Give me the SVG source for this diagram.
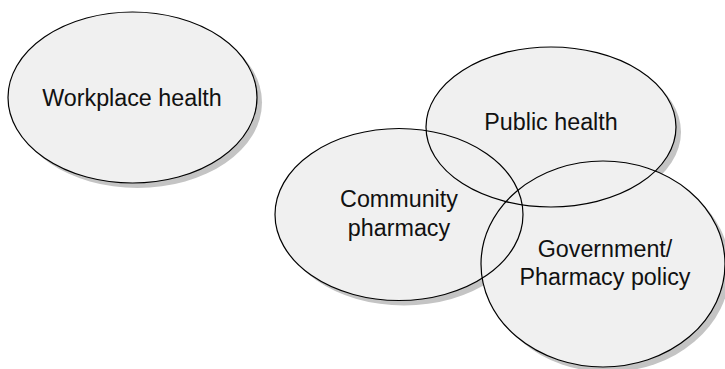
<svg xmlns="http://www.w3.org/2000/svg" xmlns:xlink="http://www.w3.org/1999/xlink" width="725" height="369" viewBox="0 0 725 369">
  <style>
    .shadow { fill: #c4c4c4; stroke: none; }
    .fill { fill: #f0f0f0; stroke: none; }
    .outline { fill: none; stroke: #000; stroke-width: 1.2; }
    .label { font-family: "Liberation Sans", Arial, sans-serif; font-size: 23.3px; fill: #111; text-anchor: middle; }
  </style>
  <defs>
    <ellipse id="e-workplace" cx="132.5" cy="97.5" rx="124.5" ry="85.5"/>
    <ellipse id="e-public" cx="551" cy="127" rx="125" ry="80"/>
    <ellipse id="e-community" cx="399" cy="214.5" rx="124" ry="86"/>
    <ellipse id="e-government" cx="603" cy="264" rx="122" ry="103"/>
  </defs>

  <!-- drop shadows under every ellipse -->
  <g id="shadows" transform="translate(5,5)">
    <use xlink:href="#e-workplace" class="shadow"/>
    <use xlink:href="#e-public" class="shadow"/>
    <use xlink:href="#e-community" class="shadow"/>
    <use xlink:href="#e-government" class="shadow"/>
  </g>

  <!-- shared light fill, drawn before outlines so every outline stays visible -->
  <g id="fills">
    <use xlink:href="#e-workplace" class="fill"/>
    <use xlink:href="#e-public" class="fill"/>
    <use xlink:href="#e-community" class="fill"/>
    <use xlink:href="#e-government" class="fill"/>
  </g>

  <g id="workplace-health">
    <use xlink:href="#e-workplace" class="outline"/>
    <text class="label" x="132" y="106">Workplace health</text>
  </g>

  <g id="public-health">
    <use xlink:href="#e-public" class="outline"/>
    <text class="label" x="551" y="130">Public health</text>
  </g>

  <g id="community-pharmacy">
    <use xlink:href="#e-community" class="outline"/>
    <text class="label" x="399" y="207">Community</text>
    <text class="label" x="399" y="236">pharmacy</text>
  </g>

  <g id="government-policy">
    <use xlink:href="#e-government" class="outline"/>
    <text class="label" x="605" y="257">Government/</text>
    <text class="label" x="605" y="285">Pharmacy policy</text>
  </g>

  <g id="connectors"/>
</svg>
